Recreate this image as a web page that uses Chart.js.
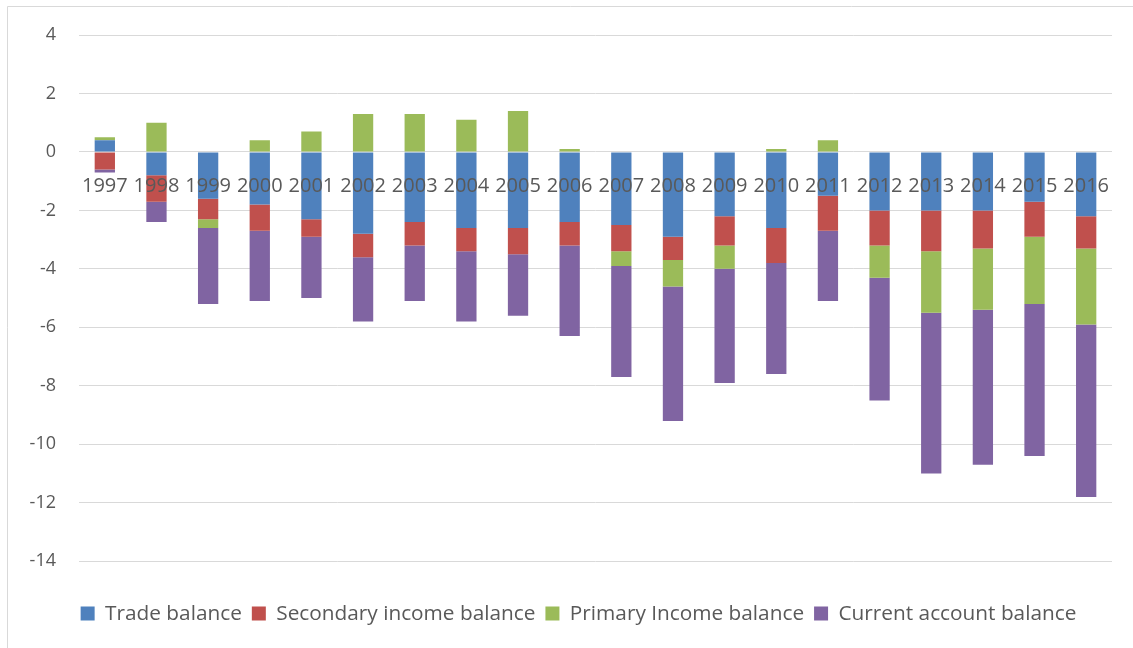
<!DOCTYPE html>
<html>
<head>
<meta charset="utf-8">
<script src="https://cdn.jsdelivr.net/npm/chart.js@4"></script>
<style>
  html, body { margin: 0; padding: 0; background: #fff; }
  #wrap { position: relative; width: 1133px; height: 648px; }
</style>
</head>
<body>
<div id="wrap"><canvas id="balanceChart"></canvas></div>
<script>
// Years on the category axis
const years = ["1997", "1998", "1999", "2000", "2001", "2002", "2003", "2004", "2005", "2006",
  "2007", "2008", "2009", "2010", "2011", "2012", "2013", "2014", "2015", "2016"];

// Series values
const tradeBalance = [0.4, -0.8, -1.6, -1.8, -2.3, -2.8, -2.4, -2.6, -2.6, -2.4,
  -2.5, -2.9, -2.2, -2.6, -1.5, -2.0, -2.0, -2.0, -1.7, -2.2];
const secondaryIncome = [-0.6, -0.9, -0.7, -0.9, -0.6, -0.8, -0.8, -0.8, -0.9, -0.8,
  -0.9, -0.8, -1.0, -1.2, -1.2, -1.2, -1.4, -1.3, -1.2, -1.1];
const primaryIncome = [0.1, 1.0, -0.3, 0.4, 0.7, 1.3, 1.3, 1.1, 1.4, 0.1,
  -0.5, -0.9, -0.8, 0.1, 0.4, -1.1, -2.1, -2.1, -2.3, -2.6];
const currentAccount = [-0.1, -0.7, -2.6, -2.4, -2.1, -2.2, -1.9, -2.4, -2.1, -3.1,
  -3.8, -4.6, -3.9, -3.8, -2.4, -4.2, -5.5, -5.3, -5.2, -5.9];

// Value axis
const yMin = -14;
const yMax = 4;
const yStep = 2;

const textColor = "#595959";
const gridColor = "#d9d9d9";

// Faint frame like the Excel chart area (left and top edges only are visible)
const framePlugin = {
  id: "frame",
  beforeDraw(chart) {
    const ctx = chart.ctx;
    ctx.save();
    ctx.fillStyle = "#fff";
    ctx.fillRect(0, 0, chart.width, chart.height);
    ctx.strokeStyle = gridColor;
    ctx.lineWidth = 1;
    ctx.beginPath();
    ctx.moveTo(7.5, chart.height);
    ctx.lineTo(7.5, 6.5);
    ctx.lineTo(chart.width, 6.5);
    ctx.stroke();
    ctx.restore();
  }
};

// Move the legend's left edge so it is centred where the reference has it
const legendShift = {
  id: "legendShift",
  afterLayout(chart) {
    if (chart.legend) chart.legend.left = 45;
  }
};

function makeSet(label, data, color) {
  return {
    label: label,
    data: data,
    backgroundColor: color,
    borderWidth: 0,
    barPercentage: 0.393,
    categoryPercentage: 1
  };
}

new Chart(document.getElementById("balanceChart"), {
  type: "bar",
  data: {
    labels: years,
    datasets: [
      makeSet("Trade balance", tradeBalance, "#4F81BD"),
      makeSet("Secondary income balance", secondaryIncome, "#C0504D"),
      makeSet("Primary Income balance", primaryIncome, "#9BBB59"),
      makeSet("Current account balance", currentAccount, "#8064A2")
    ]
  },
  options: {
    responsive: true,
    maintainAspectRatio: false,
    animation: false,
    layout: { padding: { left: 0, right: 21, top: 35, bottom: 14 } },
    scales: {
      x: {
        stacked: true,
        position: { y: 0 },
        grid: { display: false },
        border: { display: false },
        ticks: {
          z: 1, // year labels sit on top of the bars
          color: textColor,
          font: { family: "'Open Sans', sans-serif", size: 20 },
          padding: 14,
          maxRotation: 0,
          autoSkip: false
        }
      },
      // empty axis that only keeps the gap between the plot and the legend
      xPad: {
        type: "category",
        position: "bottom",
        grid: { display: false },
        border: { display: false },
        ticks: { display: false },
        afterFit(scale) { scale.height = 32; }
      },
      y: {
        stacked: true,
        min: yMin,
        max: yMax,
        ticks: {
          stepSize: yStep,
          color: textColor,
          font: { family: "'Open Sans', sans-serif", size: 18 },
          padding: 23
        },
        grid: { color: gridColor, lineWidth: 1, drawTicks: false },
        border: { display: false },
        afterFit(scale) { scale.width = 79; }
      }
    },
    plugins: {
      legend: {
        position: "bottom",
        labels: {
          color: textColor,
          font: { family: "'Open Sans', sans-serif", size: 20.8 },
          boxWidth: 14,
          boxHeight: 14,
          padding: 10
        }
      },
      tooltip: { enabled: false }
    }
  },
  plugins: [framePlugin, legendShift]
});
</script>
</body>
</html>
